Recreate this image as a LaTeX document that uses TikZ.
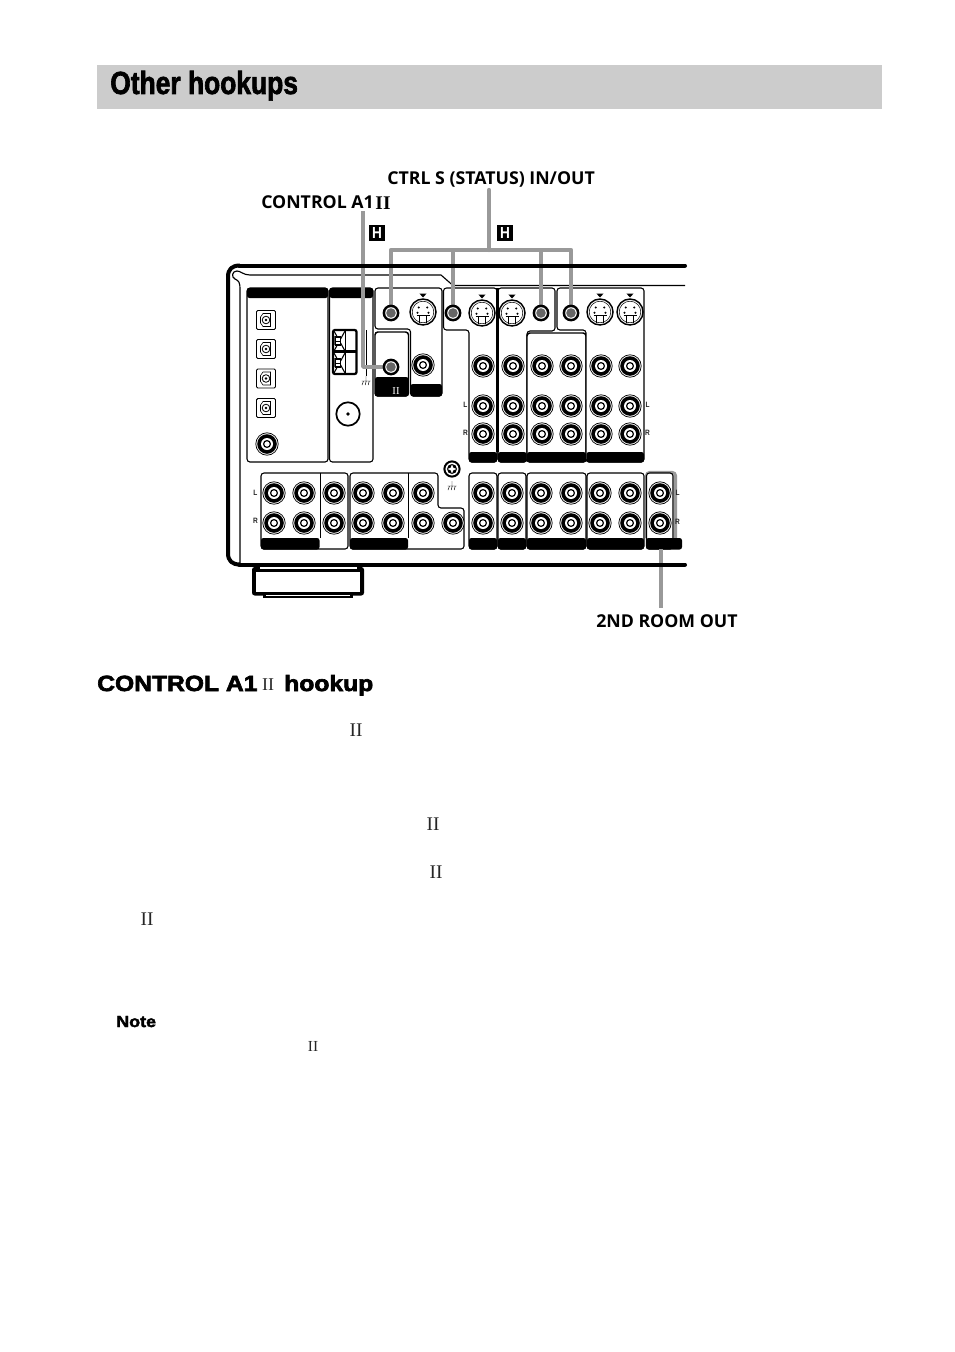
\documentclass[tikz,border=0pt]{standalone}
\usepackage{fontspec}
\setmainfont{Liberation Serif}
\newfontfamily\titlefont[FakeStretch=0.825,FakeBold=2]{Liberation Sans}
\newfontfamily\labelfont{Open Sans}
\newfontfamily\headfont[FakeStretch=1.12,FakeBold=3]{Liberation Sans}
\newfontfamily\notefont[FakeStretch=1.12,FakeBold=2.5]{Liberation Sans}
\newfontfamily\smallfont[FakeStretch=0.85]{Liberation Sans}
\tikzset{
 x=0.75pt,y=-0.75pt,
 thick line/.style={line width=3pt,line cap=round,line join=round},
 thin line/.style={line width=0.85pt,line join=round},
 panel/.style={draw=black,line width=0.8pt,rounded corners=2.2pt,fill=white},
 bar/.style={fill=black,rounded corners=1.8pt},
 wire/.style={draw=wiregray,line width=3.2pt,line join=round},
 callout/.style={font=\labelfont\bfseries\fontsize{13.3}{15}\selectfont,inner sep=0pt,anchor=west},
 roman/.style={font=\fontsize{14.5}{16}\selectfont,inner sep=0pt,text=black!85},
 jacklabel/.style={font=\smallfont\bfseries\fontsize{5.8}{6}\selectfont,inner sep=0pt,text=black!85},
 tagbox/.style={fill=black,text=white,font=\smallfont\bfseries\fontsize{12}{12}\selectfont,inner sep=0pt,minimum width=11.5pt,minimum height=11.5pt},
 rcajack/.pic={
  \draw[line width=0.55pt,fill=white] (0,0) circle (11.2);
  \fill[black] (0,0) circle (9.8);
  \fill[white] (0,0) circle (6);
  \draw[line width=0.9pt] (0,0) circle (3.4);
 },
 ctljack/.pic={
  \fill[black] (0,0) circle (8.4);
  \fill[white] (0,0) circle (5.8);
  \fill[black!60] (0,0) circle (4.8);
 },
 svideo/.pic={
  \draw[line width=1.1pt,fill=white] (0,0) circle (13);
  \draw[line width=0.4pt] (0,0) circle (10.8);
  \foreach \a/\b in {-4.2/-4.5,4.2/-4.5,-5.5/0.8,5.5/0.8}{\fill (\a,\b) circle (1.1);}
  \draw[line width=0.8pt] (-6.5,3.8) -- (6.5,3.8) (-3.2,3.8) -- (-3.2,11) (3.2,3.8) -- (3.2,11);
  \fill (-3.6,-18.5) -- (3.6,-18.5) -- (0,-14.5) -- cycle;
 },
 optical/.pic={
  \draw[line width=0.7pt,rounded corners=1pt,fill=white] (-9.5,-9.5) rectangle (9.5,9.5);
  \draw[line width=0.4pt] (-5.5,-3) -- (-3,-6.5) -- (4.5,-6.5) -- (4.5,6.5) -- (-3,6.5) -- (-5.5,3) -- cycle;
  \draw[line width=0.6pt] (0,0) circle (3.8);
  \fill (0,0) circle (1.3);
 },
 groundmark/.pic={
  \draw[line width=0.35pt] (0,-5) -- (0,0) (-4.5,0) -- (4.5,0) (-4,4) -- (-2.5,0) (-0.8,4) -- (0.2,0) (2.2,4) -- (3.2,0);
 },
}
\definecolor{wiregray}{gray}{0.6}
\definecolor{bandgray}{gray}{0.8}
\begin{document}
\begin{tikzpicture}
\useasboundingbox (0,0) rectangle (954,1352);
\fill[white] (0,0) rectangle (954,1352);

% title band
\fill[bandgray] (97,65) rectangle (882,109);
\node[anchor=base west,inner sep=0pt,font=\titlefont\bfseries\fontsize{24}{28}\selectfont] (title) at (110,94) {Other hookups};

% chassis corners and left side
\draw[thick line,line cap=butt] (240,265.5) .. controls (232,265.5) and (228,269) .. (228,277) -- (228,553) .. controls (228,561) and (232,564.5) .. (240,564.5);
\draw[thin line] (685,285.5) -- (453,285.5) -- (441,275) -- (250,275) .. controls (243,275) and (241,271) .. (237,271) .. controls (232,271) and (231,277) .. (235,279) .. controls (239,281) and (240,282) .. (240,290) -- (240,564);

% feet
\fill[black,rounded corners=2pt] (252,567) rectangle (364,595.5);
\fill[black] (257,563) rectangle (359,570);
\fill[black] (263,595) rectangle (353,597.5);
\fill[white] (259.5,566.2) rectangle (356.5,569.3);
\fill[white] (255.5,571.5) rectangle (360,591.5);
\draw[white,line width=0.35pt] (266,595) -- (350,595);

% left panels
\draw[panel] (247,288) rectangle (328,462);
\fill[bar] (247,288) rectangle (328,298);
\draw[panel] (329.5,288) rectangle (373,462);
\fill[bar] (329.5,288) rectangle (373,298);
\foreach \n/\y in {a/320,b/349,c/378.5,d/408}{\pic at (266,\y) {optical};}
\pic at (267,444) {rcajack};
\draw[line width=1.3pt] (348,414) circle (11.7);
\fill (348,414) circle (1.8);
\coordinate (gnd1) at (366,381);
\draw[line width=0.7pt] (366,330) -- (366,376);
\pic at (gnd1) {groundmark};
% antenna block
\draw[line width=1.7pt,rounded corners=1.5pt] (333,330) rectangle (356.5,374);
\draw[line width=1.7pt] (333,351.5) -- (356.5,351.5);
\draw[line width=1.3pt] (345.5,331) -- (345.5,373);
\foreach \t in {330,352}{
 \draw[line width=0.8pt] (334,\t+1) -- (345,\t+21) (334,\t+21) -- (345,\t+1) (334,\t+6) -- (334,\t+15);
 \draw[line width=1pt,fill=white] (335.5,\t+7) rectangle (340.5,\t+15);
 \draw[line width=0.6pt] (335.5,\t+11) -- (340.5,\t+11);
}

% upper block with control jacks
\draw[panel] (375,288) -- (442,288) -- (442,396) -- (410.5,396) -- (410.5,329) -- (375,329) -- cycle;
\draw[panel,line width=1.1pt] (375,332) rectangle (408.5,396);
\fill[bar] (375,377) rectangle (408.5,396.5);
\fill[bar] (410.5,384) rectangle (442,396.5);
\node[roman,text=white,font=\fontsize{8}{8}\selectfont] (iipanel) at (396,391) {II};

% right upper panels
\draw[panel] (443.5,288) -- (497,288) -- (497,462) -- (469,462) -- (469,330) -- (443.5,330) -- cycle;
\draw[panel] (498,288) -- (555,288) -- (555,331) -- (527,331) -- (527,462) -- (498,462) -- cycle;
\draw[panel,line width=1.1pt] (527,333) rectangle (586,462);
\draw[panel] (557,288) -- (644,288) -- (644,462) -- (586,462) -- (586,330) -- (557,330) -- cycle;
\draw[line width=1.6pt] (497.5,288) -- (497.5,452);
\fill[bar] (469,452) rectangle (497,462.5);
\fill[bar] (498,452) rectangle (526.5,462.5);
\fill[bar] (527,452) rectangle (586,462.5);
\fill[bar] (586.5,452) rectangle (644,462.5);

% bottom panels
\draw[panel] (261,473) rectangle (348,549);
\draw[line width=0.7pt] (320,473) -- (320,538);
\fill[bar] (261,538) rectangle (319.5,549.5);
\draw[panel] (350,473) -- (438,473) -- (438,508) -- (464,508) -- (464,549) -- (350,549) -- cycle;
\draw[line width=0.7pt] (408.5,473) -- (408.5,538);
\fill[bar] (350,538) rectangle (408,549.5);
\foreach \a/\b in {469/497,498/526,527/586,587/644}{
 \draw[panel] (\a,473) rectangle (\b,549);
 \fill[bar] (\a,538) rectangle (\b,549.5);
}

% 2nd room block
\draw[draw=wiregray,line width=2.4pt,rounded corners=2.5pt] (646.5,538) -- (646.5,472.5) -- (675.5,472.5) -- (675.5,538);
\draw[panel,fill=white] (646.5,473) rectangle (673,549);
\fill[bar] (646,538) rectangle (682,549.5);

% jacks
\foreach \x in {483,513,542,571,601,630}{
 \foreach \y in {366,406,434}{\pic at (\x,\y) {rcajack};}
}
\foreach \x in {274,304,334,363,393,423,483,512,541,571,600,630,660}{
 \foreach \y in {493,523}{\pic at (\x,\y) {rcajack};}
}
\pic at (453,523) {rcajack};
\pic at (423,365) {rcajack};
\pic at (423,312) {svideo};
\pic at (482,313) {svideo};
\pic at (512,313) {svideo};
\pic at (600,312) {svideo};
\pic at (630,312) {svideo};

% screw and ground
\draw[line width=1.5pt,fill=white] (452,469) circle (7.6);
\fill (452,469) circle (5);
\fill[white] (452,464.4) -- (453.3,467.7) -- (456.6,469) -- (453.3,470.3) -- (452,473.6) -- (450.7,470.3) -- (447.4,469) -- (450.7,467.7) -- cycle;
\pic at (452,486) {groundmark};

% L / R marks
\node[jacklabel] (l1) at (465.5,405) {L};
\node[jacklabel] (r1) at (465.5,433) {R};
\node[jacklabel] (l2) at (647.5,405) {L};
\node[jacklabel] (r2) at (647.5,433) {R};
\node[jacklabel] (l3) at (255.5,493) {L};
\node[jacklabel] (r3) at (255.5,521) {R};
\node[jacklabel] (l4) at (677.5,493) {L};
\node[jacklabel] (r4) at (677.5,522) {R};

% control jack positions
\coordinate (jA) at (391,367);
\coordinate (j1) at (391,313);
\coordinate (j2) at (453,313);
\coordinate (j3) at (541,313);
\coordinate (j4) at (571,313);
\coordinate (j5) at (661,549);
\coordinate (busL) at (391,250);
\coordinate (busR) at (571,250);
\coordinate (busM) at (489,250);
\coordinate (busT) at (489,190);
\coordinate (ctlT) at (363,211);
\coordinate (ctlB) at (363,367);
\coordinate (roomB) at (661,608);

% wires
\draw[wire,line cap=round] (busT) -- (busM);
\draw[wire] (j1) -- (busL) -- (busR) -- (j4);
\draw[wire] (j2) -- (453,250);
\draw[wire] (j3) -- (541,250);
\draw[wire,line width=2.6pt] (ctlT) -- (ctlB) -- (jA);
\draw[wire,line width=3.4pt] (j5) -- (roomB);
% chassis long edges, over the wires
\draw[thick line] (239,564.5) -- (685,564.5);
\draw[thick line] (239,265.5) -- (685,265.5);
\pic at (jA) {ctljack};
\pic at (j1) {ctljack};
\pic at (j2) {ctljack};
\pic at (j3) {ctljack};
\pic at (j4) {ctljack};

% callouts
\node[callout] (ctrls) at (387,179) {CTRL S (STATUS) IN/OUT};
\node[callout] (ctrla) at (261,202) {CONTROL A1};
\node[roman,font=\bfseries\fontsize{14.5}{16}\selectfont,text=black] (iia) at (383,203) {II};
\node[callout] (room) at (596,621) {2ND ROOM OUT};
\node[tagbox] (h1) at (377,233) {H};
\node[tagbox] (h2) at (505,233) {H};

% heading and body marks
\node[anchor=base west,inner sep=0pt,font=\headfont\bfseries\fontsize{16.5}{18}\selectfont] (head) at (97,691) {CONTROL A1};
\node[roman,font=\fontsize{13.5}{15}\selectfont] (iih) at (268,684.5) {II};
\node[anchor=base west,inner sep=0pt,font=\headfont\bfseries\fontsize{16.5}{18}\selectfont] (hook) at (284,691) {hookup};
\node[roman] (ii1) at (356,730) {II};
\node[roman] (ii2) at (433,824) {II};
\node[roman] (ii3) at (436,872) {II};
\node[roman] (ii4) at (147,919) {II};
\node[anchor=base west,inner sep=0pt,font=\notefont\bfseries\fontsize{12}{13}\selectfont] (note) at (116,1027) {Note};
\node[roman,font=\fontsize{11.5}{13}\selectfont] (ii5) at (313,1046) {II};
\end{tikzpicture}
\end{document}
